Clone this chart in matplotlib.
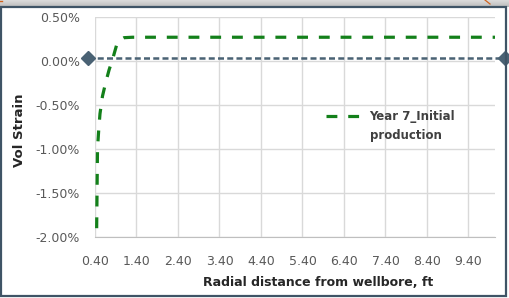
import matplotlib
matplotlib.use("Agg")
import matplotlib.pyplot as plt
from matplotlib.ticker import PercentFormatter, FixedLocator
from matplotlib.patches import Rectangle
from matplotlib.lines import Line2D
import numpy as np

plt.rcParams['axes.unicode_minus'] = False
plt.rcParams['font.family'] = ['DejaVu Sans']

# Data (strain in %)
radial_ft = [0.44, 0.46, 0.49, 0.52, 0.58, 0.66, 0.74, 0.83, 0.92, 1.00, 1.10,
             1.30, 2.00, 3.00, 4.00, 5.00, 6.00, 7.00, 8.00, 9.00, 10.04]
vol_strain_pct = [-1.90, -1.00, -0.78, -0.60, -0.40, -0.24, -0.10, 0.03, 0.18, 0.24, 0.265,
                  0.27, 0.27, 0.27, 0.27, 0.27, 0.27, 0.27, 0.27, 0.27, 0.27]
ref_x = [0.23, 10.27]
ref_y = [0.035, 0.035]
x_ticks = [0.4, 1.4, 2.4, 3.4, 4.4, 5.4, 6.4, 7.4, 8.4, 9.4]
y_ticks = [-2.0, -1.5, -1.0, -0.5, 0.0, 0.5]
series_label = "Year 7_Initial"
series_label2 = "production"

W, H = 510, 298
fig = plt.figure(figsize=(W / 100, H / 100), dpi=100)
fig.patch.set_facecolor('white')

ax = fig.add_axes([95 / W, 1 - 237 / H, 400 / W, 220 / H])
ax.set_xlim(0.4, 10.04)
ax.set_ylim(-2.0, 0.5)
ax.xaxis.set_major_locator(FixedLocator(x_ticks))
ax.yaxis.set_major_locator(FixedLocator(y_ticks))
ax.xaxis.set_major_formatter(plt.FuncFormatter(lambda v, p: f"{v:.2f}"))
ax.yaxis.set_major_formatter(PercentFormatter(xmax=100, decimals=2))
ax.grid(True, color='#D9D9D9', lw=1.0)
ax.set_axisbelow(True)
for s in ['top', 'right', 'left']:
    ax.spines[s].set_visible(False)
ax.spines['bottom'].set_color('#BFBFBF')
ax.tick_params(length=0, labelsize=9, colors='#595959')
ax.tick_params(axis='x', pad=13)
ax.tick_params(axis='y', pad=11)

ax.plot(ref_x, ref_y, color='#4A6274', lw=1.8, dashes=(2.4, 1.3),
        marker='D', markersize=7.5, markevery=[0, 1], clip_on=False, zorder=3)
line, = ax.plot(radial_ft, vol_strain_pct, color='#13801A', lw=2.3, dashes=(3.4, 3.4),
                label=series_label, zorder=4)

leg = ax.legend(loc='center left', bbox_to_anchor=(321 / W, 1 - 117 / H),
                bbox_transform=fig.transFigure, frameon=False,
                handlelength=3.0, handletextpad=0.65, borderaxespad=0,
                prop={'size': 8.5, 'weight': 'bold'})
for t in leg.get_texts():
    t.set_color('#404040')
fig.text(370 / W, 1 - 135 / H, series_label2, fontsize=8.5, fontweight='bold',
         color='#404040', ha='left', va='center')

fig.text(20 / W, 1 - 130 / H, "Vol Strain", rotation=90, fontsize=9.5, fontweight='bold',
         color='#262626', ha='center', va='center')
fig.text(318 / W, 1 - 283 / H, "Radial distance from wellbore, ft", fontsize=9.0,
         fontweight='bold', color='#262626', ha='center', va='center')

# frame decorations
grad = np.linspace(0, 1, 8).reshape(-1, 1)
hdr = fig.add_axes([0, 1 - 7 / H, 1, 7 / H])
hdr.imshow(grad, aspect='auto', cmap=matplotlib.colors.LinearSegmentedColormap.from_list(
    'g', ['#DADADA', '#BDBDBD']), extent=[0, 1, 0, 1])
hdr.axis('off')
fig.patches.append(Rectangle((1 / W, 2 / H), 505 / W, (H - 9) / H, transform=fig.transFigure,
                             fill=False, edgecolor='#3F5466', lw=1.6))
fig.add_artist(Line2D([485 / W, 490 / W], [1.0, 1 - 4 / H], transform=fig.transFigure,
                      color='#D0641E', lw=0.9))
fig.add_artist(Line2D([0, 2 / W], [1 - 1 / H, 1 - 1 / H], transform=fig.transFigure,
                      color='#D0641E', lw=1.0))

fig.savefig("out.png", dpi=100)
